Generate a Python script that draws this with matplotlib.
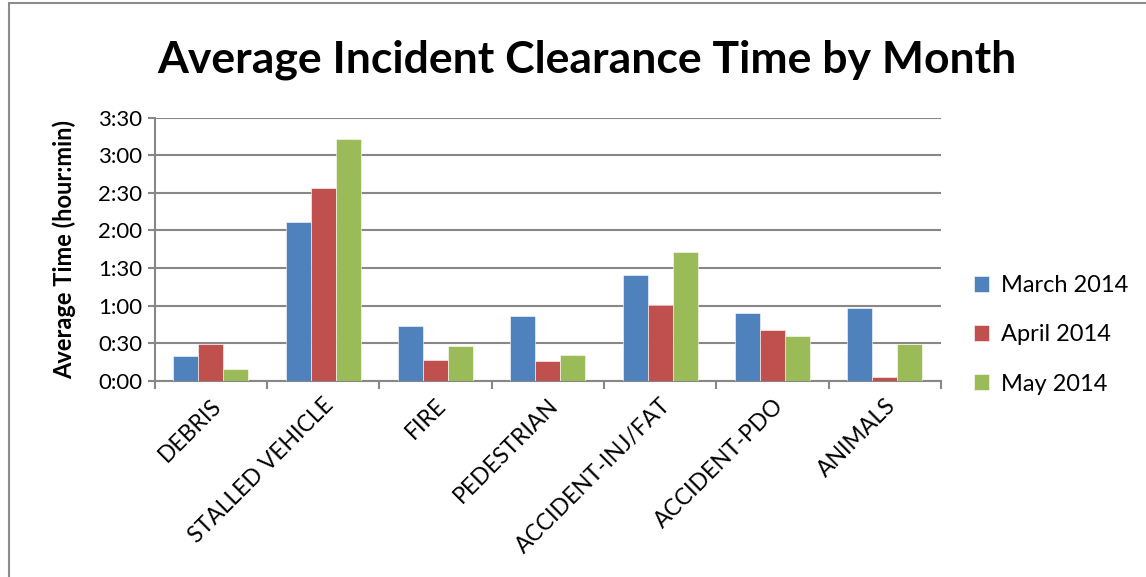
import numpy as np
import matplotlib.pyplot as plt
from matplotlib.patches import Rectangle

categories = ["DEBRIS", "STALLED VEHICLE", "FIRE", "PEDESTRIAN",
              "ACCIDENT-INJ/FAT", "ACCIDENT-PDO", "ANIMALS"]
months = ["March 2014", "April 2014", "May 2014"]
# average clearance time in minutes
march = [20, 127, 43.5, 51.5, 84.5, 54.5, 58.5]
april = [29.5, 154, 17, 16, 60.5, 40.5, 3]
may = [9.5, 193, 28, 21, 103, 35.5, 29]
colors = ["#4F81BD", "#C0504D", "#9BBB59"]
yticks_min = [0, 30, 60, 90, 120, 150, 180, 210]

plt.rcParams['font.family'] = ['Lato', 'DejaVu Sans']

fig = plt.figure(figsize=(11.46, 5.77), dpi=100)
ax = fig.add_axes([0.135, 0.340, 0.686, 0.456])

# chart frame
fig.patches.append(Rectangle((0.008, -0.1), 1.2, 1.094, transform=fig.transFigure,
                             fill=False, edgecolor="#8c8c8c", linewidth=1.5))

x = np.arange(len(categories))
w = 0.223
for i, (vals, name) in enumerate(zip([march, april, may], months)):
    ax.bar(x + (i - 1) * w, vals, w, color=colors[i], label=name,
           edgecolor="white", linewidth=0.4, zorder=3)

ax.set_xlim(-0.5, len(categories) - 0.5)
ax.set_ylim(0, 210)
ax.set_yticks(yticks_min)
ax.set_yticklabels([f"{m // 60}:{m % 60:02d}" for m in yticks_min], fontsize=16)
ax.yaxis.grid(True, color="#878787", linewidth=1.5, zorder=0)

ax.set_xticks(np.arange(len(categories) + 1) - 0.5)
ax.set_xticklabels([])
ax.set_xticks(x, minor=True)
ax.set_xticklabels(categories, minor=True, rotation=45, ha="right",
                   rotation_mode="anchor", fontsize=16.5)
ax.tick_params(axis="x", which="minor", length=0, pad=10)
ax.tick_params(axis="x", which="major", length=6, width=1.5, color="#878787")
ax.tick_params(axis="y", length=5, width=1.5, color="#878787", pad=4)

for s in ["top", "right"]:
    ax.spines[s].set_visible(False)
for s in ["left", "bottom"]:
    ax.spines[s].set_color("#878787")
    ax.spines[s].set_linewidth(1.5)

ax.set_ylabel("Average Time (hour:min)", fontsize=17, fontweight="bold", labelpad=16)
fig.text(0.512, 0.897, "Average Incident Clearance Time by Month", ha="center",
         va="center", fontsize=32, fontweight="bold")

ax.legend(loc="center left", bbox_to_anchor=(1.015, 0.175), frameon=False,
          fontsize=17, handlelength=0.65, handleheight=0.65, labelspacing=1.2,
          handletextpad=0.5)

fig.savefig("out.png", dpi=100)
